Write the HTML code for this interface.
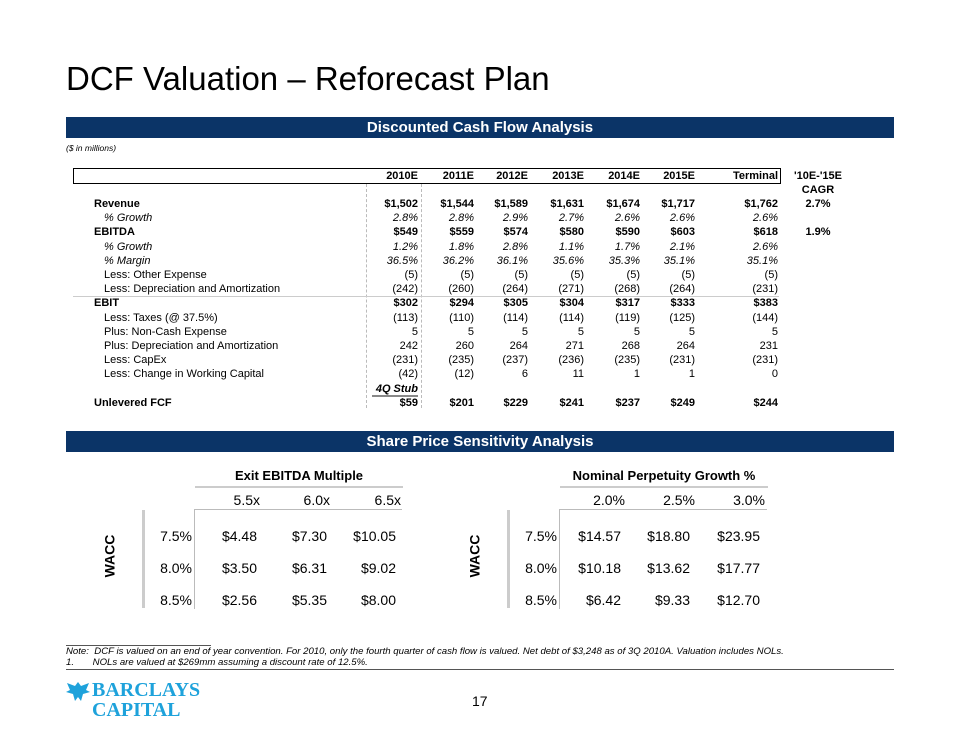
<!DOCTYPE html>
<html><head><meta charset="utf-8">
<style>
body{margin:0;width:960px;height:742px;background:#fff;position:relative;overflow:hidden;font-family:"Liberation Sans",Arial,sans-serif;color:#000}
.a{position:absolute;white-space:nowrap}
.bar{position:absolute;left:66px;width:828px;height:21px;background:#0b3467;color:#fff;font-weight:bold;font-size:15px;text-align:center;line-height:21px}
.r{text-align:right}
.t{font-size:11px}
.b{font-weight:bold}
.i{font-style:italic}
.s{font-size:14px}
</style></head><body>
<div class="a" style="left:66px;top:60px;font-size:33px">DCF Valuation – Reforecast Plan</div>
<div class="bar" style="top:117px">Discounted Cash Flow Analysis</div>
<div class="a i" style="left:66px;top:143px;font-size:8.5px">($ in millions)</div>
<div class="a" style="left:73px;top:168px;width:706px;height:14px;border:1.5px solid #000"></div>
<div class="a" style="left:366px;top:184px;height:224px;border-left:1px dashed #bbb"></div>
<div class="a" style="left:421px;top:184px;height:224px;border-left:1px dashed #bbb"></div>
<div class="a" style="left:73px;top:296px;width:706px;border-top:1px solid #ccc"></div>
<div class="a" style="left:372px;top:395px;width:46px;border-top:2px solid #888"></div>
<div id="dcf"></div>
<div class="bar" style="top:431px">Share Price Sensitivity Analysis</div>
<div id="sens"></div>
<div class="a" style="left:66px;top:645px;width:145px;border-top:1px solid #555"></div>
<div class="a i" style="left:66px;top:646px;font-size:9.6px">Note:&nbsp; DCF is valued on an end of year convention. For 2010, only the fourth quarter of cash flow is valued. Net debt of $3,248 as of 3Q 2010A. Valuation includes NOLs.</div>
<div class="a i" style="left:66px;top:657px;font-size:9.6px">1.&nbsp;&nbsp;&nbsp;&nbsp;&nbsp;&nbsp; NOLs are valued at $269mm assuming a discount rate of 12.5%.</div>
<div class="a" style="left:66px;top:669px;width:828px;border-top:1px solid #555"></div>
<svg class="a" style="left:65px;top:680px" width="26" height="22" viewBox="0 0 26 22"><path d="M13 2 L16 6 L24 3 L21 10 L25 12 L18 14 L16 21 L13 17 L10 21 L8 14 L1 12 L5 10 L2 3 L10 6 Z" fill="#1ea2db"/></svg>
<div class="a b" style="left:92px;top:680px;font-family:'Liberation Serif',serif;color:#1ea2db;font-size:20px;line-height:20px">BARCLAYS<br>CAPITAL</div>
<div class="a" style="left:472px;top:693px;font-size:14px">17</div>
<script>
const years=["2010E","2011E","2012E","2013E","2014E","2015E","Terminal"];
const colRight=[418,474,528,584,640,695,778];
const rowLabels=["Revenue","% Growth","EBITDA","% Growth","% Margin","Less: Other Expense","Less: Depreciation and Amortization","EBIT","Less: Taxes (@ 37.5%)","Plus: Non-Cash Expense","Plus: Depreciation and Amortization","Less: CapEx","Less: Change in Working Capital","","Unlevered FCF"];
const rowStyle=["b","i","b","i","i","","","b","","","","","","","b"];
const revenue=["$1,502","$1,544","$1,589","$1,631","$1,674","$1,717","$1,762"];
const revGrowth=["2.8%","2.8%","2.9%","2.7%","2.6%","2.6%","2.6%"];
const ebitda=["$549","$559","$574","$580","$590","$603","$618"];
const ebitdaGrowth=["1.2%","1.8%","2.8%","1.1%","1.7%","2.1%","2.6%"];
const margin=["36.5%","36.2%","36.1%","35.6%","35.3%","35.1%","35.1%"];
const otherExp=["(5)","(5)","(5)","(5)","(5)","(5)","(5)"];
const da=["(242)","(260)","(264)","(271)","(268)","(264)","(231)"];
const ebit=["$302","$294","$305","$304","$317","$333","$383"];
const taxes=["(113)","(110)","(114)","(114)","(119)","(125)","(144)"];
const nonCash=["5","5","5","5","5","5","5"];
const daAdd=["242","260","264","271","268","264","231"];
const capex=["(231)","(235)","(237)","(236)","(235)","(231)","(231)"];
const wc=["(42)","(12)","6","11","1","1","0"];
const stub=["4Q Stub","","","","","",""];
const fcf=["$59","$201","$229","$241","$237","$249","$244"];
const cagr=["2.7%","","1.9%"];
const rows=[revenue,revGrowth,ebitda,ebitdaGrowth,margin,otherExp,da,ebit,taxes,nonCash,daAdd,capex,wc,stub,fcf];
const dcf=document.getElementById('dcf');
function mk(parent,txt,cls,css){const d=document.createElement('div');d.className='a '+cls;d.textContent=txt;d.style.cssText=css;parent.appendChild(d);return d;}
years.forEach((y,i)=>{
  const d=mk(dcf,y,'t b r','top:170px;left:'+(colRight[i]-70)+'px;width:70px');
  
  
});
const ch=mk(dcf,"'10E-'15E",'t b','top:170px;left:788px;width:60px;text-align:center');


const ch2=mk(dcf,"CAGR",'t b','top:184px;left:788px;width:60px;text-align:center');


rows.forEach((vals,r)=>{
  const top=198+r*14.2;
  const st=rowStyle[r];
  if(rowLabels[r]){
    const ind=(st==='b')?94:104;
    const l=mk(dcf,rowLabels[r],'t '+st,'top:'+top+'px;left:'+ind+'px');
    
    
  }
  vals.forEach((v,i)=>{
    if(!v)return;
    const c=mk(dcf,v,'t r '+(r===13?'b i':st),'top:'+top+'px;left:'+(colRight[i]-70)+'px;width:70px');
    
    
  });
});
cagr.forEach((v,k)=>{if(!v)return;
  const c=mk(dcf,v,'t b','top:'+(198+k*14.2)+'px;left:788px;width:60px;text-align:center');
  
  
});
const waccs=["7.5%","8.0%","8.5%"];
const multiples=["5.5x","6.0x","6.5x"];
const exitVals=[["$4.48","$7.30","$10.05"],["$3.50","$6.31","$9.02"],["$2.56","$5.35","$8.00"]];
const growths=["2.0%","2.5%","3.0%"];
const perpVals=[["$14.57","$18.80","$23.95"],["$10.18","$13.62","$17.77"],["$6.42","$9.33","$12.70"]];
const sens=document.getElementById('sens');
function table(ox,title,hdr,vals,hdrRight,valRight,name){
  const t=mk(sens,title,'b','font-size:13px;top:468px;left:'+(ox+195)+'px;width:208px;text-align:center');
  
  
  const l1=mk(sens,'','','top:486px;left:'+(ox+195)+'px;width:208px;border-top:2px solid #ccc');
  
  
  const l2=mk(sens,'','','top:509px;left:'+(ox+194)+'px;width:208px;border-top:1px solid #bbb');
  
  
  const l3=mk(sens,'','','top:509px;left:'+(ox+194)+'px;height:100px;border-left:1px solid #bbb');
  
  
  const l4=mk(sens,'','','top:510px;left:'+(ox+142)+'px;height:98px;border-left:3px solid #ccc');
  
  
  const w=mk(sens,'WACC','b','font-size:14px;top:548px;left:'+(ox+88)+'px;transform:rotate(-90deg)');
  
  
  hdr.forEach((h,i)=>{
    const d=mk(sens,h,'s r','top:492px;left:'+(hdrRight[i]-60+ox)+'px;width:60px');
    
    
  });
  waccs.forEach((wv,r)=>{
    const top=528+r*32;
    const d=mk(sens,wv,'s r','top:'+top+'px;left:'+(ox+132)+'px;width:60px');
    
    
    vals[r].forEach((v,i)=>{
      const c=mk(sens,v,'s r','top:'+top+'px;left:'+(valRight[i]-70+ox)+'px;width:70px');
      
      
    });
  });
}
table(0,'Exit EBITDA Multiple',multiples,exitVals,[260,330,401],[257,327,396],'exit-multiple');
table(365,'Nominal Perpetuity Growth %',growths,perpVals,[260,330,400],[256,325,395],'perpetuity-growth');
</script>
</body></html>
